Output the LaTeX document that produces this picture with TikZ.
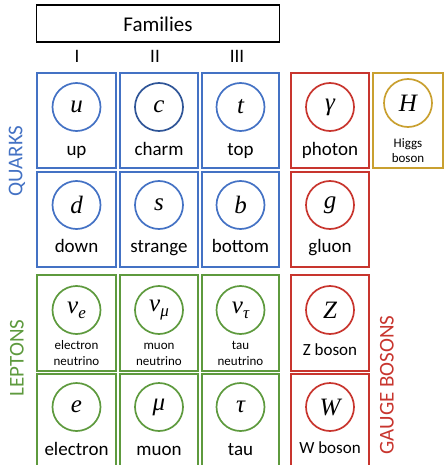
\documentclass[tikz,border=0pt]{standalone}
\usepackage{fontspec}
\setmainfont{Carlito}
\newfontfamily\symfont{Liberation Serif}
\definecolor{qblue}{HTML}{4472C4}
\definecolor{qdblue}{HTML}{2F5597}
\definecolor{lgreen}{HTML}{5E9A3E}
\definecolor{bred}{HTML}{C8352E}
\definecolor{hgold}{HTML}{C9A030}
% particle symbol, with an optional lowered index
\newcommand\psym[2]{{\symfont\itshape #1}\ifx\relax#2\relax\else\raisebox{-5pt}{\fontsize{17}{19}\selectfont\symfont\itshape #2}\fi}
\tikzset{
  cell/.style={draw=#1, line width=2pt, rectangle, inner sep=0pt},
  ring/.style={draw=#1, line width=1.7pt, circle, minimum size=48pt, inner sep=0pt,
    font=\fontsize{25}{28}\selectfont},
  lbl/.style={anchor=base, inner sep=0pt, font=\fontsize{19}{22}\selectfont},
  smalltxt/.style={anchor=base, inner sep=0pt, font=\fontsize{13}{15}\selectfont},
  midtxt/.style={anchor=base, inner sep=0pt, font=\fontsize{17}{20}\selectfont},
  grouplbl/.style={rotate=90, inner sep=0pt, text=#1, font=\fontsize{21}{24}\selectfont},
}
\begin{document}
\begin{tikzpicture}[x=1pt,y=-1pt]
\useasboundingbox (0,0) rectangle (445,465);
\clip (0,0) rectangle (445,465);

% header
\node[draw, line width=1.2pt, minimum width=243pt, minimum height=37pt, inner sep=0pt]
  (fam) at (158,23.5) {};
\node[lbl, font=\fontsize{21}{24}\selectfont] (famt) at (158,32) {Families};
\node[lbl] (g1) at (77,63) {I};
\node[lbl] (g2) at (155,63) {II};
\node[lbl] (g3) at (237,63) {III};

% fermion cells: columns and rows
\foreach \nm/\x/\w in {a/76.5/79, b/159/78, c/240.5/77}{
  \foreach \r/\y/\h/\col in {1/120.5/95/qblue, 2/219.5/95/qblue, 3/323/96/lgreen, 4/422/96/lgreen}{
    \node[cell=\col, minimum width=\w pt, minimum height=\h pt] (\nm\r) at (\x,\y) {};
  }
}
% boson cells
\foreach \r/\y/\h in {1/120.5/95, 2/219.5/95, 3/323/96, 4/422/96}{
  \node[cell=bred, minimum width=78pt, minimum height=\h pt] (d\r) at (330,\y) {};
}
\node[cell=hgold, minimum width=70pt, minimum height=95pt] (h1) at (408,120.5) {};

% quarks
\node[ring=qblue] (u) at (76.5,107) {\psym{u}{}};
\node[ring=qdblue] (cq) at (159,107) {\psym{c}{}};
\node[ring=qblue] (t) at (240.5,107) {\psym{t}{}};
\node[ring=qblue] (dq) at (76.5,205) {\psym{d}{}};
\node[ring=qblue] (s) at (159,205) {\psym{s}{}};
\node[ring=qblue] (bq) at (240.5,205) {\psym{b}{}};
\node[lbl] (lu) at (76.5,155) {up};
\node[lbl] (lc) at (159,155) {charm};
\node[lbl] (lt) at (240.5,155) {top};
\node[lbl] (ld) at (76.5,252) {down};
\node[lbl] (ls) at (159,252) {strange};
\node[lbl] (lb) at (240.5,252) {bottom};

% leptons
\node[ring=lgreen] (ne) at (76.5,310) {\psym{ν}{e}};
\node[ring=lgreen] (nm) at (159,310) {\psym{ν}{μ}};
\node[ring=lgreen] (nt) at (240.5,310) {\psym{ν}{τ}};
\node[ring=lgreen] (e) at (76.5,407) {\psym{e}{}};
\node[ring=lgreen] (mu) at (159,407) {\psym{μ}{}};
\node[ring=lgreen] (tau) at (240.5,407) {\psym{τ}{}};
\node[smalltxt] (lne1) at (76.5,349) {electron};
\node[smalltxt] (lne2) at (76.5,365) {neutrino};
\node[smalltxt] (lnm1) at (159,349) {muon};
\node[smalltxt] (lnm2) at (159,365) {neutrino};
\node[smalltxt] (lnt1) at (240.5,349) {tau};
\node[smalltxt] (lnt2) at (240.5,365) {neutrino};
\node[lbl] (le) at (76.5,455) {electron};
\node[lbl] (lmu) at (159,455) {muon};
\node[lbl] (ltau) at (240.5,455) {tau};

% gauge bosons
\node[ring=bred] (gam) at (330,107) {\psym{γ}{}};
\node[ring=bred] (gl) at (330,205) {\psym{g}{}};
\node[ring=bred] (zb) at (330,310) {\psym{Z}{}};
\node[ring=bred] (wb) at (330,407) {\psym{W}{}};
\node[lbl] (lgam) at (330,155) {photon};
\node[lbl] (lgl) at (330,252) {gluon};
\node[midtxt] (lz) at (330,355) {Z boson};
\node[midtxt] (lw) at (330,453) {W boson};

% Higgs
\node[ring=hgold] (hh) at (408,103) {\psym{H}{}};
\node[smalltxt] (lh1) at (408,147) {Higgs};
\node[smalltxt] (lh2) at (408,162) {boson};

% group labels
\node[grouplbl=qblue] (quarks) at (17,161) {QUARKS};
\node[grouplbl=lgreen] (leptons) at (17,358) {LEPTONS};
\node[grouplbl=bred] (gauge) at (387,385) {GAUGE BOSONS};
\end{tikzpicture}
\end{document}
